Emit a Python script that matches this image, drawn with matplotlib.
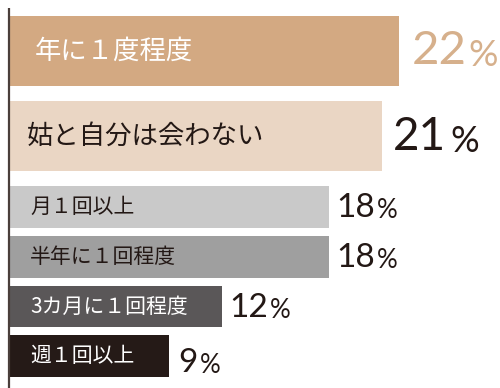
import matplotlib.pyplot as plt

plt.rcParams['font.family'] = ['Noto Sans CJK JP', 'DejaVu Sans']

# data
labels = ["年に１度程度", "姑と自分は会わない", "月１回以上", "半年に１回程度", "3カ月に１回程度", "週１回以上"]
values = [22, 21, 18, 18, 12, 9]

# styling / layout (pixel units, figure is 500x388)
bar_colors = ["#d3a982", "#ead6c4", "#c9c9c9", "#9f9f9f", "#5a5758", "#251a17"]
label_colors = ["white", "#231815", "#231815", "#231815", "white", "white"]
value_colors = ["#d6b08c", "#231815", "#231815", "#231815", "#231815", "#231815"]
y_centers = [51, 136, 207, 257, 306.5, 356]
heights = [70, 70, 42, 42, 41, 42]
label_sizes = [19, 19, 15, 15, 15, 15]
label_pad = [25, 17, 20, 20, 20, 20]
num_sizes = [34, 33, 24, 24, 24, 24]
num_pad = [12, 11, 8, 8, 7, 9]
num_base = [13.5, 14, 10, 10, 10.5, 16]
pct_gap = [2, 5, 2, 2, 2, 2]

PX_PER_PCT = 17.7
LEFT = 10

fig = plt.figure(figsize=(5, 3.88), dpi=100)
ax = fig.add_axes([0, 0, 1, 1])
ax.set_xlim(-LEFT / PX_PER_PCT, (500 - LEFT) / PX_PER_PCT)
ax.set_ylim(388, 0)
ax.axis("off")

ax.barh(y_centers, values, height=heights, left=0, color=bar_colors)

for i, (lab, v) in enumerate(zip(labels, values)):
    ax.annotate(lab, xy=(0, y_centers[i]), xytext=(label_pad[i], 0),
                textcoords="offset pixels", va="center", ha="left",
                fontsize=label_sizes[i], color=label_colors[i])
    t = ax.annotate(str(v), xy=(v, y_centers[i] + num_base[i]),
                    xytext=(num_pad[i], 0), textcoords="offset pixels",
                    va="baseline", ha="left", fontsize=num_sizes[i],
                    color=value_colors[i], family="Lato")
    ax.annotate("%", xy=(1, 0), xycoords=t, xytext=(pct_gap[i], 0),
                textcoords="offset pixels", va="bottom", ha="left",
                fontsize=num_sizes[i] * 0.78, color=value_colors[i],
                family="Lato")

# left axis line
ax.plot([-1 / PX_PER_PCT, -1 / PX_PER_PCT], [8, 388], color="#4a3f3b", lw=1.6,
        solid_capstyle="butt")

fig.savefig("out.png", dpi=100)
